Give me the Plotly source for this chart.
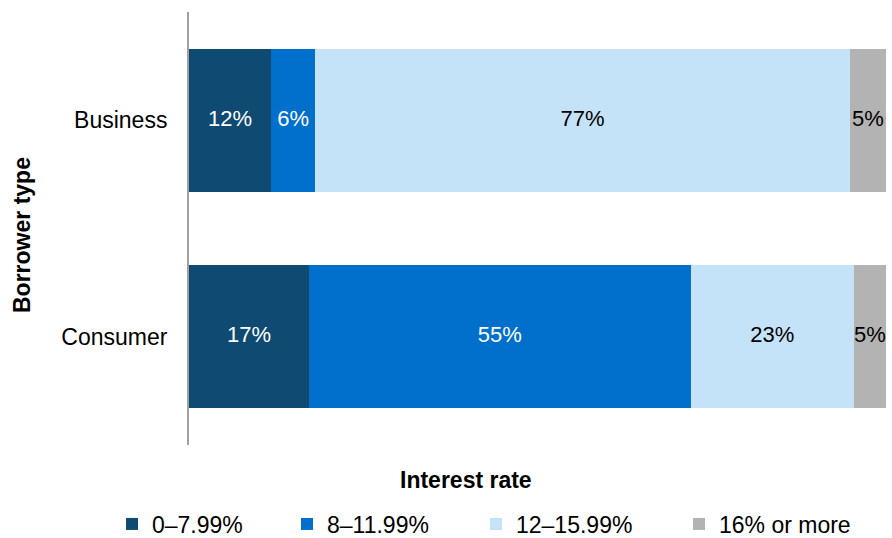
import plotly.graph_objects as go

categories = ["Consumer", "Business"]
series_names = ["0–7.99%", "8–11.99%", "12–15.99%", "16% or more"]
business_vals = [11.8, 6.3, 76.7, 5.2]
consumer_vals = [17.2, 54.8, 23.4, 4.6]
colors = ["#0e4a72", "#0070cc", "#c5e3f8", "#b3b3b3"]
text_colors = ["white", "white", "black", "black"]
legend_marker_px = [132, 307, 496, 699]  # legend symbol centres (pixels)

FONT = "Liberation Sans, Arial, sans-serif"
FS = 24
L, R, T, B = 189, 6, 12, 93
W, H = 892, 538
PW, PH = W - L - R, H - T - B

fig = go.Figure()
legend_names = ["legend", "legend2", "legend3", "legend4"]
for i, name in enumerate(series_names):
    vals = [consumer_vals[i], business_vals[i]]
    fig.add_trace(go.Bar(
        y=categories, x=vals, name=name, orientation="h",
        marker=dict(color=colors[i], line=dict(width=0)),
        hoverinfo="skip", legend=legend_names[i],
    ))

# segment labels at the centre of each segment
for i in range(len(series_names)):
    xs, ys, ts = [], [], []
    for cat, vals in (("Consumer", consumer_vals), ("Business", business_vals)):
        start = sum(vals[:i])
        xs.append(start + vals[i] / 2)
        ys.append(cat)
        ts.append(f"{vals[i]:.0f}%")
    fig.add_trace(go.Scatter(
        x=xs, y=ys, text=ts, mode="text", textposition="middle center",
        textfont=dict(color=text_colors[i], size=FS - 2, family=FONT),
        showlegend=False, hoverinfo="skip", cliponaxis=False,
    ))

layout_legends = {}
for i, ln in enumerate(legend_names):
    layout_legends[ln] = dict(
        x=(legend_marker_px[i] - 20 - L) / PW, xanchor="left",
        y=(445 - 524) / PH, yanchor="middle",
        orientation="h", font=dict(size=FS - 1, family=FONT, color="black"),
        bgcolor="rgba(0,0,0,0)", borderwidth=0, itemwidth=30,
    )

fig.update_layout(
    barmode="stack", bargap=0.34,
    width=W, height=H,
    margin=dict(l=L, r=R, t=T, b=B, autoexpand=False),
    paper_bgcolor="white", plot_bgcolor="white",
    font=dict(family=FONT, size=FS, color="black"),
    showlegend=True,
    xaxis=dict(range=[0, 100], showticklabels=False, showgrid=False, zeroline=False,
               showline=False, ticks="", fixedrange=True),
    yaxis=dict(showgrid=False, zeroline=False, showline=True, linecolor="#a0a0a0",
               linewidth=2, ticks="", tickfont=dict(size=FS - 1), automargin=False,
               ticklabelstandoff=15, fixedrange=True,
               categoryorder="array", categoryarray=categories),
    annotations=[
        dict(text="<b>Interest rate</b>", x=(466 - L) / PW, y=(445 - 480) / PH,
             xref="paper", yref="paper", xanchor="center", yanchor="middle",
             showarrow=False, font=dict(size=FS - 1)),
        dict(text="<b>Borrower type</b>", x=(22 - L) / PW, y=(445 - 235) / PH,
             xref="paper", yref="paper", xanchor="center", yanchor="middle",
             textangle=-90, showarrow=False, font=dict(size=FS - 1)),
    ],
    **layout_legends,
)

fig.write_html("out.html", config={"displayModeBar": False},
               post_script="document.body.style.margin='0';document.body.style.overflow='hidden';")
